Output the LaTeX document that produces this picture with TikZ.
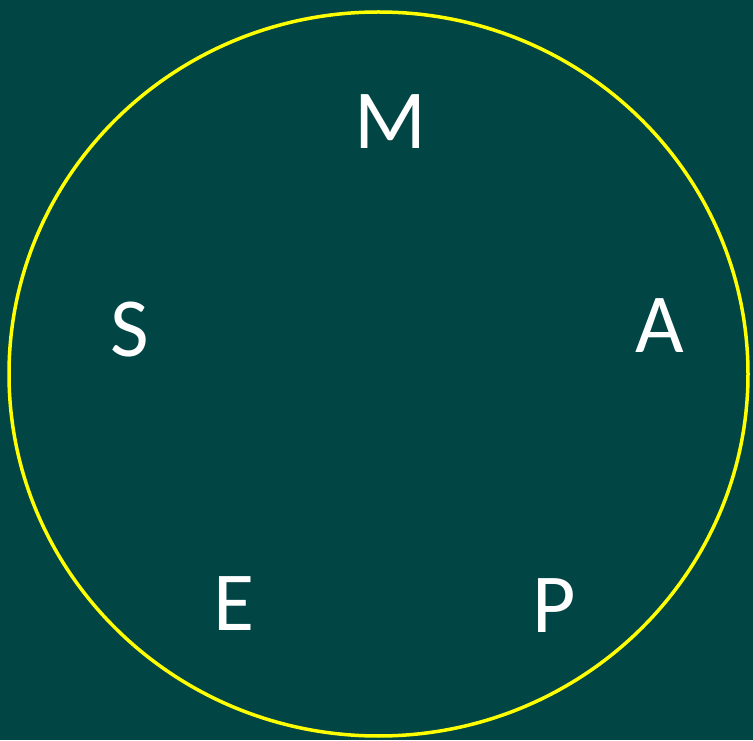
\documentclass[tikz,border=0pt]{standalone}
\usepackage{fontspec}
\usetikzlibrary{shapes.geometric}
\setmainfont{Carlito}
\definecolor{slidebg}{HTML}{014544}
\definecolor{ringyellow}{HTML}{FFFF00}
\begin{document}
\begin{tikzpicture}[
  x=1pt, y=1pt,
  ring/.style={draw=ringyellow, line width=3.5pt},
  letter/.style={text=white, font=\fontsize{84}{84}\selectfont, inner sep=0pt}
]
  \fill[slidebg] (0,0) rectangle (753,740);
  \useasboundingbox (0,0) rectangle (753,740);
  \node[ring, ellipse, minimum width=739pt, minimum height=724pt, inner sep=0pt] (ring) at (378.5,366) {};
  \node[letter] (m) at (390,618) {M};
  \node[letter] (s) at (130,410) {S};
  \node[letter] (a) at (660,414) {A};
  \node[letter] (e) at (234,136) {E};
  \node[letter] (p) at (554,134) {P};
\end{tikzpicture}
\end{document}
